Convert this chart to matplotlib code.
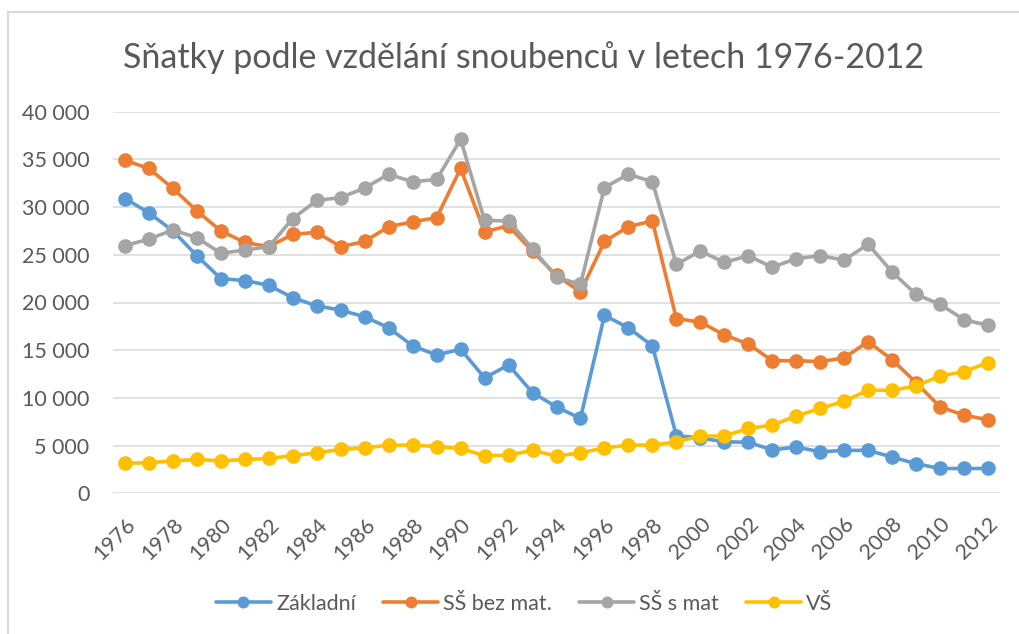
import matplotlib
matplotlib.use("Agg")
import matplotlib.pyplot as plt
from matplotlib.patches import Rectangle
from matplotlib.ticker import FuncFormatter, MultipleLocator
from matplotlib.transforms import ScaledTranslation

years = list(range(1976, 2013))

zakladni = [30900, 29400, 27500, 24900, 22500, 22300, 21800, 20500, 19650, 19200,
            18500, 17350, 15450, 14500, 15100, 12100, 13450, 10550, 9050, 7850,
            18650, 17350, 15450, 6050, 5800, 5400, 5350, 4550, 4850, 4350,
            4500, 4500, 3800, 3100, 2600, 2600, 2600]
ss_bez_mat = [34900, 34050, 31950, 29600, 27500, 26300, 25850, 27150, 27350, 25850,
              26400, 27950, 28450, 28900, 34050, 27400, 28050, 25350, 22850, 21100,
              26400, 27950, 28550, 18300, 17950, 16600, 15650, 13900, 13900, 13800,
              14200, 15900, 14000, 11600, 9050, 8200, 7700]
ss_s_mat = [25950, 26650, 27600, 26800, 25150, 25500, 25850, 28800, 30700, 31000,
            32000, 33450, 32650, 32900, 37100, 28600, 28550, 25650, 22650, 21900,
            32050, 33450, 32650, 24000, 25400, 24200, 24900, 23700, 24600, 24900,
            24450, 26100, 23200, 20850, 19800, 18200, 17600]
vs = [3150, 3200, 3400, 3550, 3400, 3550, 3650, 3950, 4250, 4600,
      4750, 5050, 5050, 4900, 4700, 3950, 4000, 4500, 3900, 4250,
      4750, 5050, 5050, 5400, 6000, 6000, 6800, 7150, 8100, 8900,
      9650, 10800, 10800, 11250, 12300, 12750, 13700]

series_names = ["Základní", "SŠ bez mat.", "SŠ s mat", "VŠ"]
series_data = [zakladni, ss_bez_mat, ss_s_mat, vs]
colors = ["#5B9BD5", "#ED7D31", "#A5A5A5", "#FFC000"]
title = "Sňatky podle vzdělání snoubenců v letech 1976-2012"

plt.rcParams['font.family'] = ['Lato', 'DejaVu Sans']
text_color = "#595959"

W, H = 1020, 634
fig = plt.figure(figsize=(W / 100, H / 100), dpi=100)
ax = fig.add_axes([113 / W, 1 - 493.3 / H, (1000 - 113) / W, (493.3 - 111.7) / H])

for name, data, c in zip(series_names, series_data, colors):
    ax.plot(years, data, color=c, lw=2.6, marker='o', markersize=9.5,
            label=name, solid_capstyle='round', clip_on=False)

ax.set_xlim(1975.5, 2012.5)
ax.set_ylim(0, 40000)
ax.yaxis.set_major_locator(MultipleLocator(5000))
ax.yaxis.set_major_formatter(FuncFormatter(lambda v, p: f"{int(v):,}".replace(",", " ")))
ax.set_xticks(years[::2])
ax.set_xticklabels([str(y) for y in years[::2]], rotation=45, ha='right',
                   va='top', rotation_mode='anchor')
shift = ScaledTranslation(4 / 100, 0, fig.dpi_scale_trans)
for lbl in ax.get_xticklabels():
    lbl.set_transform(lbl.get_transform() + shift)
ax.grid(axis='y', color="#D9D9D9", lw=1.1)
ax.set_axisbelow(True)
for s in ax.spines.values():
    s.set_visible(False)
ax.tick_params(axis='both', length=0, labelsize=15.5, colors=text_color)
ax.tick_params(axis='y', pad=17)
ax.tick_params(axis='x', pad=15)

fig.text(0.513, 1 - 58 / H, title, ha='center', va='center', fontsize=24.5,
         color=text_color)

leg = fig.legend(loc='center', bbox_to_anchor=(0.514, 1 - 604 / H), ncol=4,
                 frameon=False, fontsize=15.5, handlelength=2.55, columnspacing=1.25,
                 handletextpad=0.25, markerscale=0.8)
for t in leg.get_texts():
    t.set_color(text_color)

fig.patches.append(Rectangle((8 / W, -0.1), 1.2, 1.1 - 12 / H,
                             transform=fig.transFigure, fill=False,
                             edgecolor="#D9D9D9", lw=1.5))

fig.savefig("out.png", dpi=100)
